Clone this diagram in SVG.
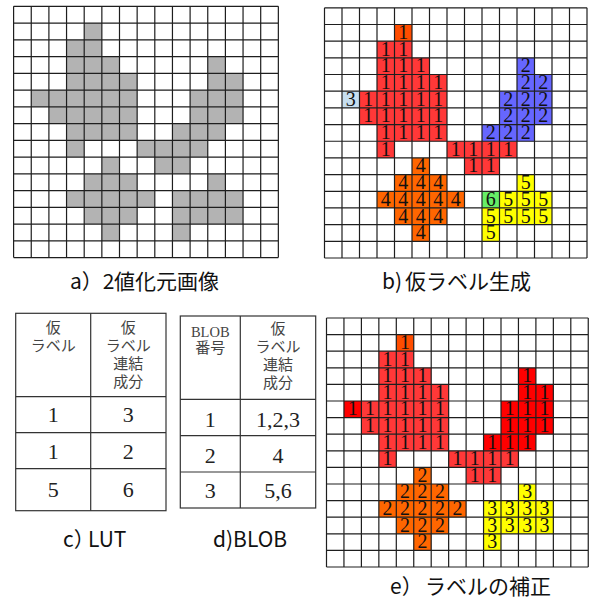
<svg xmlns="http://www.w3.org/2000/svg" width="589" height="599" viewBox="0 0 589 599">
<style>
.bg{fill:#fff}
.g{fill:#b3b3b3}
.r{fill:#ff3838}
.t{fill:#ff4d00}
.o{fill:#ff6600}
.bl{fill:#6666ff}
.lb{fill:#c7dff0}
.gr{fill:#66ee66}
.y{fill:#ffff00}
.dr{fill:#ff0000}
.grid{fill:none;stroke:#1e1e1e;stroke-width:1.2}
.tbl{fill:none;stroke:#333;stroke-width:1.2}
.n{font-family:"Liberation Serif","Times New Roman",serif;font-size:20px;fill:#111;text-anchor:middle}
.h{font-family:"Liberation Serif","Noto Sans CJK JP",serif;font-size:15px;fill:#444;text-anchor:middle}
.d{font-family:"Liberation Serif","Times New Roman",serif;font-size:22px;fill:#222;text-anchor:middle}
.cap{font-family:"Noto Sans CJK JP","Noto Sans",sans-serif;font-size:21px;fill:#111}
</style>
<rect class="bg" x="0" y="0" width="589" height="599"/>

<g id="grid-a">
<g class="g">
<rect x="84.2" y="23.05" width="17.65" height="16.75"/>
<rect x="66.55" y="39.8" width="35.3" height="16.75"/>
<rect x="66.55" y="56.55" width="52.95" height="16.75"/>
<rect x="207.75" y="56.55" width="17.65" height="16.75"/>
<rect x="66.55" y="73.3" width="70.6" height="16.75"/>
<rect x="207.75" y="73.3" width="35.3" height="16.75"/>
<rect x="31.25" y="90.05" width="105.9" height="16.75"/>
<rect x="190.1" y="90.05" width="52.95" height="16.75"/>
<rect x="48.9" y="106.8" width="88.25" height="16.75"/>
<rect x="190.1" y="106.8" width="52.95" height="16.75"/>
<rect x="66.55" y="123.55" width="70.6" height="16.75"/>
<rect x="172.45" y="123.55" width="52.95" height="16.75"/>
<rect x="66.55" y="140.3" width="17.65" height="16.75"/>
<rect x="137.15" y="140.3" width="70.6" height="16.75"/>
<rect x="101.85" y="157.05" width="17.65" height="16.75"/>
<rect x="154.8" y="157.05" width="35.3" height="16.75"/>
<rect x="84.2" y="173.8" width="52.95" height="16.75"/>
<rect x="207.75" y="173.8" width="17.65" height="16.75"/>
<rect x="66.55" y="190.55" width="88.25" height="16.75"/>
<rect x="172.45" y="190.55" width="70.6" height="16.75"/>
<rect x="84.2" y="207.3" width="52.95" height="16.75"/>
<rect x="172.45" y="207.3" width="70.6" height="16.75"/>
<rect x="101.85" y="224.05" width="17.65" height="16.75"/>
<rect x="172.45" y="224.05" width="17.65" height="16.75"/>
</g>
<path class="grid" d="M13.6 6.3V257.55M31.25 6.3V257.55M48.9 6.3V257.55M66.55 6.3V257.55M84.2 6.3V257.55M101.85 6.3V257.55M119.5 6.3V257.55M137.15 6.3V257.55M154.8 6.3V257.55M172.45 6.3V257.55M190.1 6.3V257.55M207.75 6.3V257.55M225.4 6.3V257.55M243.05 6.3V257.55M260.7 6.3V257.55M278.35 6.3V257.55M13.6 6.3H278.35M13.6 23.05H278.35M13.6 39.8H278.35M13.6 56.55H278.35M13.6 73.3H278.35M13.6 90.05H278.35M13.6 106.8H278.35M13.6 123.55H278.35M13.6 140.3H278.35M13.6 157.05H278.35M13.6 173.8H278.35M13.6 190.55H278.35M13.6 207.3H278.35M13.6 224.05H278.35M13.6 240.8H278.35M13.6 257.55H278.35"/>
</g>

<g id="grid-b">
<rect class="t" x="394.5" y="24.48" width="17.5" height="16.68"/>
<g class="r">
<rect x="377" y="41.16" width="35" height="16.68"/>
<rect x="377" y="57.84" width="52.5" height="16.68"/>
<rect x="377" y="74.52" width="70" height="16.68"/>
<rect x="359.5" y="91.2" width="87.5" height="16.68"/>
<rect x="359.5" y="107.88" width="87.5" height="16.68"/>
<rect x="377" y="124.56" width="70" height="16.68"/>
<rect x="377" y="141.24" width="17.5" height="16.68"/>
<rect x="447" y="141.24" width="70" height="16.68"/>
<rect x="464.5" y="157.92" width="35" height="16.68"/>
</g>
<g class="bl">
<rect x="517" y="57.84" width="17.5" height="16.68"/>
<rect x="517" y="74.52" width="35" height="16.68"/>
<rect x="499.5" y="91.2" width="52.5" height="16.68"/>
<rect x="499.5" y="107.88" width="52.5" height="16.68"/>
<rect x="482" y="124.56" width="52.5" height="16.68"/>
</g>
<rect class="lb" x="342" y="91.2" width="17.5" height="16.68"/>
<g class="o">
<rect x="412" y="157.92" width="17.5" height="16.68"/>
<rect x="394.5" y="174.6" width="52.5" height="16.68"/>
<rect x="377" y="191.28" width="87.5" height="16.68"/>
<rect x="394.5" y="207.96" width="52.5" height="16.68"/>
<rect x="412" y="224.64" width="17.5" height="16.68"/>
</g>
<rect class="gr" x="482" y="191.28" width="17.5" height="16.68"/>
<g class="y">
<rect x="517" y="174.6" width="17.5" height="16.68"/>
<rect x="499.5" y="191.28" width="52.5" height="16.68"/>
<rect x="482" y="207.96" width="70" height="16.68"/>
<rect x="482" y="224.64" width="17.5" height="16.68"/>
</g>
<path class="grid" d="M324.5 7.8V258M342 7.8V258M359.5 7.8V258M377 7.8V258M394.5 7.8V258M412 7.8V258M429.5 7.8V258M447 7.8V258M464.5 7.8V258M482 7.8V258M499.5 7.8V258M517 7.8V258M534.5 7.8V258M552 7.8V258M569.5 7.8V258M587 7.8V258M324.5 7.8H587M324.5 24.48H587M324.5 41.16H587M324.5 57.84H587M324.5 74.52H587M324.5 91.2H587M324.5 107.88H587M324.5 124.56H587M324.5 141.24H587M324.5 157.92H587M324.5 174.6H587M324.5 191.28H587M324.5 207.96H587M324.5 224.64H587M324.5 241.32H587M324.5 258H587"/>
<g class="n">
<text x="403.25" y="39">1</text>
<text x="385.75 403.25" y="55.7">11</text>
<text x="385.75 403.25 420.75 525.75" y="72.3">1112</text>
<text x="385.75 403.25 420.75 438.25 525.75 543.25" y="89">111122</text>
<text x="350.75 368.25 385.75 403.25 420.75 438.25 508.25 525.75 543.25" y="105.7">311111222</text>
<text x="368.25 385.75 403.25 420.75 438.25 508.25 525.75 543.25" y="122.4">11111222</text>
<text x="385.75 403.25 420.75 438.25 490.75 508.25 525.75" y="139.1">1111222</text>
<text x="385.75 455.75 473.25 490.75 508.25" y="155.7">11111</text>
<text x="420.75 473.25 490.75" y="172.4">411</text>
<text x="403.25 420.75 438.25 525.75" y="189.1">4445</text>
<text x="385.75 403.25 420.75 438.25 455.75 490.75 508.25 525.75 543.25" y="205.8">444446555</text>
<text x="403.25 420.75 438.25 490.75 508.25 525.75 543.25" y="222.5">4445555</text>
<text x="420.75 490.75" y="239.1">45</text>
</g>
</g>

<g id="table-c">
<rect class="tbl" x="15.7" y="313.3" width="150.3" height="197.4"/>
<path class="tbl" d="M90.7 313.3V510.7M15.7 396.7H166M15.7 432.7H166M15.7 468.7H166"/>
<text class="h" x="53.2" y="333">仮</text>
<text class="h" x="53.2" y="351">ラベル</text>
<text class="h" x="128.3" y="333">仮</text>
<text class="h" x="128.3" y="351">ラベル</text>
<text class="h" x="128.3" y="369">連結</text>
<text class="h" x="128.3" y="387">成分</text>
<text class="d" x="53.2" y="421.5">1</text>
<text class="d" x="128.3" y="421.5">3</text>
<text class="d" x="53.2" y="459">1</text>
<text class="d" x="128.3" y="459">2</text>
<text class="d" x="53.2" y="496.5">5</text>
<text class="d" x="128.3" y="496.5">6</text>
</g>

<g id="table-d">
<rect class="tbl" x="180.3" y="316" width="135.4" height="192"/>
<path class="tbl" d="M240.3 316V508M180.3 399.3H315.7M180.3 435.7H315.7M180.3 472H315.7"/>
<text class="h" x="210.3" y="337" style="font-size:14.5px">BLOB</text>
<text class="h" x="210.3" y="353">番号</text>
<text class="h" x="278" y="334">仮</text>
<text class="h" x="278" y="352">ラベル</text>
<text class="h" x="278" y="370">連結</text>
<text class="h" x="278" y="388">成分</text>
<text class="d" x="210.3" y="426.5">1</text>
<text class="d" x="278" y="426.5">1,2,3</text>
<text class="d" x="210.3" y="463">2</text>
<text class="d" x="278" y="463">4</text>
<text class="d" x="210.3" y="498">3</text>
<text class="d" x="278" y="498">5,6</text>
</g>

<g id="grid-e">
<rect class="t" x="396.3" y="334.6" width="17.45" height="16.6"/>
<g class="r">
<rect x="378.85" y="351.2" width="34.9" height="16.6"/>
<rect x="378.85" y="367.8" width="52.35" height="16.6"/>
<rect x="378.85" y="384.4" width="69.8" height="16.6"/>
<rect x="361.4" y="401" width="87.25" height="16.6"/>
<rect x="361.4" y="417.6" width="87.25" height="16.6"/>
<rect x="378.85" y="434.2" width="69.8" height="16.6"/>
<rect x="378.85" y="450.8" width="17.45" height="16.6"/>
<rect x="448.65" y="450.8" width="69.8" height="16.6"/>
<rect x="466.1" y="467.4" width="34.9" height="16.6"/>
</g>
<g class="dr">
<rect x="518.45" y="367.8" width="17.45" height="16.6"/>
<rect x="518.45" y="384.4" width="34.9" height="16.6"/>
<rect x="343.95" y="401" width="17.45" height="16.6"/>
<rect x="501" y="401" width="52.35" height="16.6"/>
<rect x="501" y="417.6" width="52.35" height="16.6"/>
<rect x="483.55" y="434.2" width="52.35" height="16.6"/>
</g>
<g class="o">
<rect x="413.75" y="467.4" width="17.45" height="16.6"/>
<rect x="396.3" y="484" width="52.35" height="16.6"/>
<rect x="378.85" y="500.6" width="87.25" height="16.6"/>
<rect x="396.3" y="517.2" width="52.35" height="16.6"/>
<rect x="413.75" y="533.8" width="17.45" height="16.6"/>
</g>
<g class="y">
<rect x="518.45" y="484" width="17.45" height="16.6"/>
<rect x="483.55" y="500.6" width="69.8" height="16.6"/>
<rect x="483.55" y="517.2" width="69.8" height="16.6"/>
<rect x="483.55" y="533.8" width="17.45" height="16.6"/>
</g>
<path class="grid" d="M326.5 318V567M343.95 318V567M361.4 318V567M378.85 318V567M396.3 318V567M413.75 318V567M431.2 318V567M448.65 318V567M466.1 318V567M483.55 318V567M501 318V567M518.45 318V567M535.9 318V567M553.35 318V567M570.8 318V567M588.25 318V567M326.5 318H588.25M326.5 334.6H588.25M326.5 351.2H588.25M326.5 367.8H588.25M326.5 384.4H588.25M326.5 401H588.25M326.5 417.6H588.25M326.5 434.2H588.25M326.5 450.8H588.25M326.5 467.4H588.25M326.5 484H588.25M326.5 500.6H588.25M326.5 517.2H588.25M326.5 533.8H588.25M326.5 550.4H588.25M326.5 567H588.25"/>
<g class="n">
<text x="405" y="349">1</text>
<text x="387.6 405" y="365.6">11</text>
<text x="387.6 405 422.5 527.2" y="382.2">1111</text>
<text x="387.6 405 422.5 439.9 527.2 544.6" y="398.8">111111</text>
<text x="352.7 370.1 387.6 405 422.5 439.9 509.7 527.2 544.6" y="415.4">111111111</text>
<text x="370.1 387.6 405 422.5 439.9 509.7 527.2 544.6" y="432">11111111</text>
<text x="387.6 405 422.5 439.9 492.3 509.7 527.2" y="448.6">1111111</text>
<text x="387.6 457.4 474.8 492.3 509.7" y="465.2">11111</text>
<text x="422.5 474.8 492.3" y="481.8">211</text>
<text x="405 422.5 439.9 527.2" y="498.4">2223</text>
<text x="387.6 405 422.5 439.9 457.4 492.3 509.7 527.2 544.6" y="515">222223333</text>
<text x="405 422.5 439.9 492.3 509.7 527.2 544.6" y="531.6">2223333</text>
<text x="422.5 492.3" y="548.2">23</text>
</g>
</g>

<g id="captions">
<text class="cap" x="70" y="289">a）2<tspan x="114">値化元画像</tspan></text>
<text class="cap" x="382" y="289">b)<tspan x="405">仮ラベル生成</tspan></text>
<text class="cap" x="63" y="547">c）<tspan x="88">LUT</tspan></text>
<text class="cap" x="213" y="547">d)BLOB</text>
<text class="cap" x="390" y="593.5">e）<tspan x="425">ラベルの補正</tspan></text>
</g>
</svg>
